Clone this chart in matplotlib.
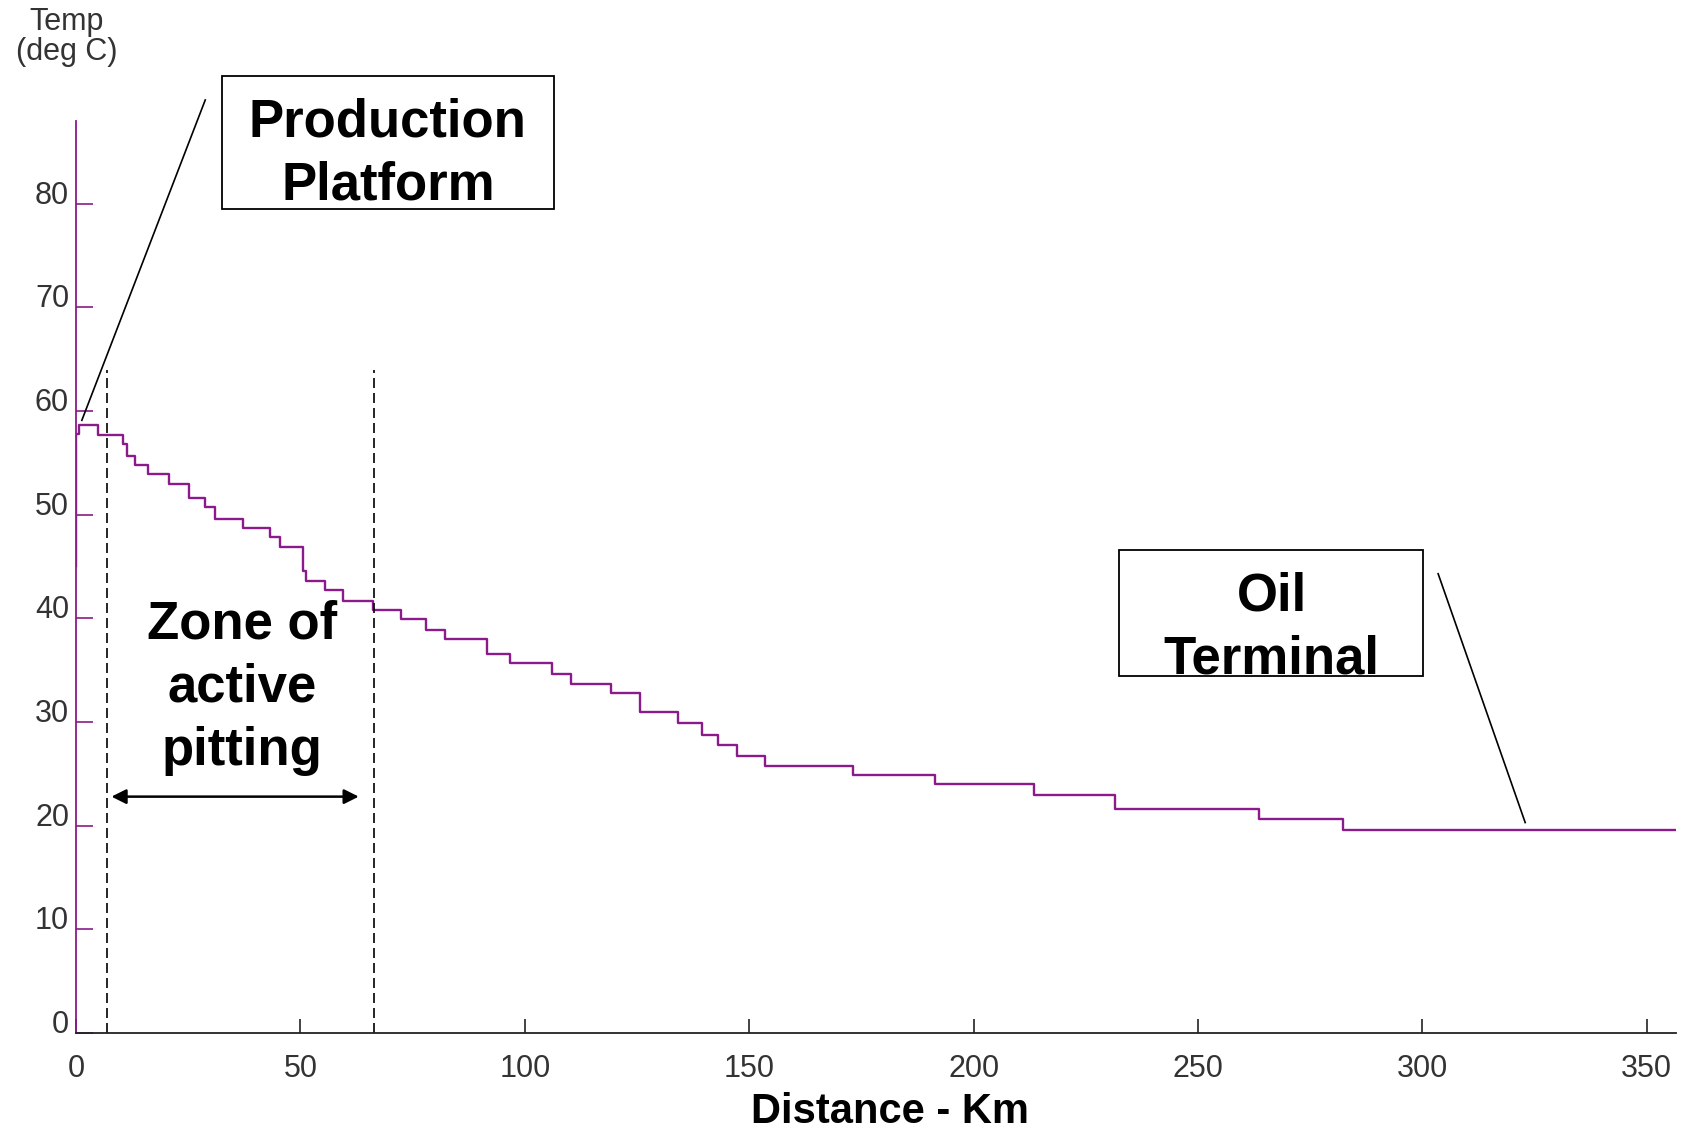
import matplotlib.pyplot as plt

plt.rcParams['font.family'] = ['Liberation Sans', 'DejaVu Sans']

# pipeline temperature profile, stepwise: each level holds from its km until the next one
distance_km = [0, 0, 0.6, 4.8, 10.4, 11.3, 13.2, 16.1, 20.7, 25.2, 28.7, 31.0,
               37.1, 43.2, 45.4, 50.6, 51.2, 55.5, 59.5, 66.2, 72.5, 77.9, 82.3,
               91.6, 96.8, 106.1, 110.4, 119.2, 125.7, 134.1, 139.4, 143.1,
               147.3, 153.6, 173.1, 191.4, 213.4, 231.4, 263.5, 282.2, 356.5]
temp_c = [45.0, 57.8, 58.6, 57.7, 56.8, 55.7, 54.8, 53.9, 53.0, 51.6, 50.7, 49.6,
          48.7, 47.8, 46.9, 44.6, 43.6, 42.7, 41.7, 40.8, 39.9, 38.9, 38.0,
          36.6, 35.7, 34.6, 33.7, 32.8, 31.0, 29.9, 28.7, 27.8,
          26.7, 25.8, 24.9, 24.0, 23.0, 21.6, 20.6, 19.6, 19.6]

pitting_zone = [7.0, 66.4]
x_ticks = [0, 50, 100, 150, 200, 250, 300, 350]
y_ticks = [0, 10, 20, 30, 40, 50, 60, 70, 80]

purple = '#8B1A8B'
grey = '#333333'

fig = plt.figure(figsize=(16.96, 11.31), dpi=100)
ax = fig.add_axes([76/1696, 1 - 1033/1131, 1600/1696, 912.3/1131])

ax.step(distance_km, temp_c, where='post', color=purple, lw=1.7)

ax.set_xlim(0, 356.5)
ax.set_ylim(0, 88)
ax.set_xticks(x_ticks)
ax.set_yticks(y_ticks)

for side in ['top', 'right']:
    ax.spines[side].set_visible(False)
ax.spines['left'].set_color(purple)
ax.spines['left'].set_linewidth(1.3)
ax.spines['bottom'].set_color('#222222')
ax.spines['bottom'].set_linewidth(1.3)

ax.tick_params(axis='y', direction='in', length=12, width=1.2, color=purple,
               labelsize=22, labelcolor=grey, pad=5)
ax.tick_params(axis='x', direction='in', length=10, width=1.2, color='#222222',
               labelsize=22, labelcolor=grey, pad=15)
for lab in ax.get_yticklabels():
    lab.set_verticalalignment('baseline')

# pitting zone boundaries and span arrow
for xz in pitting_zone:
    ax.plot([xz, xz], [0, 64], color='black', lw=1.2, dashes=(6, 3))
ax.annotate('', xy=(63.0, 22.8), xytext=(7.9, 22.8),
            arrowprops=dict(arrowstyle='<|-|>', color='black', lw=1.8,
                            mutation_scale=22, shrinkA=0, shrinkB=0))
ax.text(37.0, 33.3, 'Zone of\nactive\npitting', ha='center', va='center',
        fontsize=38, fontweight='bold', linespacing=1.34)

# labelled boxes with leader lines
ax.add_patch(plt.Rectangle((32.6, 79.5), 73.9, 12.8, fill=False, ec='black',
                           lw=1.3, clip_on=False))
ax.text(69.5, 84.8, 'Production\nPlatform', ha='center', va='center',
        fontsize=38, fontweight='bold', linespacing=1.34, clip_on=False)
ax.plot([28.8, 1.3], [90.0, 59.1], color='black', lw=1.2, clip_on=False)

ax.add_patch(plt.Rectangle((232.5, 34.4), 67.6, 12.2, fill=False, ec='black',
                           lw=1.3))
ax.text(266.4, 39.1, 'Oil\nTerminal', ha='center', va='center',
        fontsize=38, fontweight='bold', linespacing=1.34)
ax.plot([303.5, 322.9], [44.3, 20.3], color='black', lw=1.2)

fig.text(890/1696, 1 - 1112/1131, 'Distance - Km', ha='center', va='center',
         fontsize=30, fontweight='bold')
fig.text(67/1696, 1 - 37/1131, 'Temp\n(deg C)', ha='center', va='center',
         fontsize=22, color=grey, linespacing=1.0)

fig.savefig('out.png', dpi=100)
